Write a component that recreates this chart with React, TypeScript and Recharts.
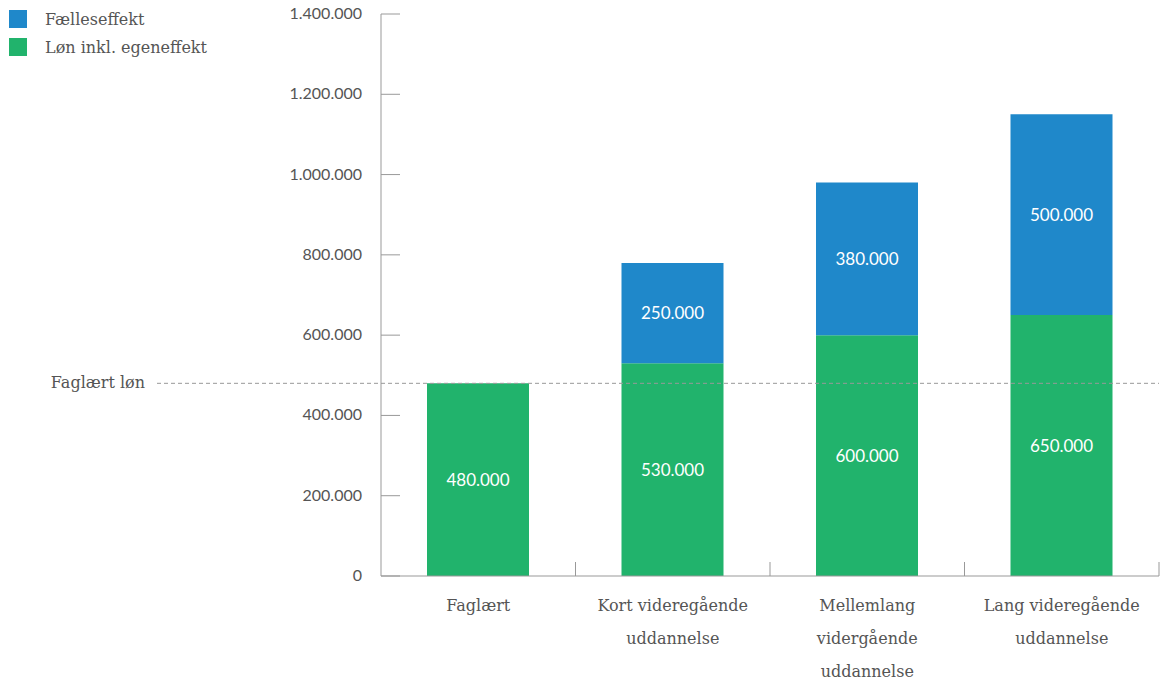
import { BarChart, Bar, XAxis, YAxis, ReferenceLine, LabelList } from 'recharts';

const categories = ['Faglært', 'Kort videregående uddannelse', 'Mellemlang vidergående uddannelse', 'Lang videregående uddannelse'];
const categoryLines = [['Faglært'], ['Kort videregående', 'uddannelse'], ['Mellemlang', 'vidergående', 'uddannelse'], ['Lang videregående', 'uddannelse']];
const lonValues = [480000, 530000, 600000, 650000];
const faellesValues = [null, 250000, 380000, 500000];
const yTicks = [0, 200000, 400000, 600000, 800000, 1000000, 1200000, 1400000];
const faglaertLon = 480000;

const W = 1162;
const H = 682;
const Y_AXIS_W = 381;
const RIGHT = 3;
const BLUE = '#1f88ca';
const GREEN = '#21b36c';
const AXIS = '#999999';
const TEXT = '#555555';
const WORD_FONT = '"DejaVu Serif", serif';
const NUM_FONT = 'Lato, sans-serif';

const band = (W - Y_AXIS_W - RIGHT) / categories.length;

const rows = categories.map((name, i) => ({
  name,
  lon: lonValues[i],
  faelles: faellesValues[i],
}));

const fmt = (v: number | null | undefined) =>
  v == null ? '' : String(v).replace(/\B(?=(\d{3})+(?!\d))/g, '.');

const YTick = ({ x, y, payload }: any) => (
  <g>
    <line x1={x + 19} x2={x + 38} y1={y} y2={y} stroke={AXIS} strokeWidth={1} />
    <text x={x} y={y} dy={5} textAnchor="end" fill={TEXT} fontSize={16} fontFamily={NUM_FONT}>
      {fmt(payload.value)}
    </text>
  </g>
);

const XTick = ({ x, y, index }: any) => (
  <g>
    <line x1={x + band / 2} x2={x + band / 2} y1={y - 14} y2={y} stroke={AXIS} strokeWidth={1} />
    {categoryLines[index].map((line, i) => (
      <text key={i} x={x} y={y + 35 + i * 33} textAnchor="middle" fill={TEXT} fontSize={16} fontFamily={WORD_FONT}>
        {line}
      </text>
    ))}
  </g>
);

const RefShape = ({ x2, y1 }: any) => (
  <g>
    <line x1={157} x2={x2} y1={y1} y2={y1} stroke={AXIS} strokeDasharray="4 3" strokeWidth={1} />
    <text x={145} y={y1} dy={5} textAnchor="end" fill={TEXT} fontSize={16} fontFamily={WORD_FONT}>
      Faglært løn
    </text>
  </g>
);

const legendItems = [
  { label: 'Fælleseffekt', color: BLUE },
  { label: 'Løn inkl. egeneffekt', color: GREEN },
];

export default function App() {
  return (
    <div style={{ position: 'absolute', left: 0, top: 0, width: W, height: H, background: '#fff' }}>
      <div style={{ position: 'absolute', left: 9, top: 10, zIndex: 2 }}>
        {legendItems.map((item) => (
          <div key={item.label} style={{ display: 'flex', alignItems: 'center', height: 18, marginBottom: 10 }}>
            <div style={{ width: 18, height: 18, background: item.color }} />
            <span style={{ marginLeft: 18, fontFamily: WORD_FONT, fontSize: 16, color: TEXT }}>{item.label}</span>
          </div>
        ))}
      </div>
      <BarChart width={W} height={H} data={rows} margin={{ top: 14, right: RIGHT, bottom: 0, left: 0 }} barSize={102}>
        <ReferenceLine y={faglaertLon} ifOverflow="visible" shape={RefShape} />
        <XAxis
          dataKey="name"
          height={106}
          interval={0}
          tickSize={0}
          tickMargin={0}
          tickLine={false}
          axisLine={{ stroke: AXIS }}
          tick={XTick}
        />
        <YAxis
          width={Y_AXIS_W}
          domain={[0, 1400000]}
          ticks={yTicks}
          tickSize={0}
          tickMargin={19}
          tickLine={false}
          axisLine={{ stroke: AXIS }}
          tick={YTick}
        />
        <Bar dataKey="lon" stackId="a" fill={GREEN} isAnimationActive={false}>
          <LabelList dataKey="lon" position="center" fill="#fff" fontSize={17} fontFamily={NUM_FONT} formatter={fmt} />
        </Bar>
        <Bar dataKey="faelles" stackId="a" fill={BLUE} isAnimationActive={false}>
          <LabelList dataKey="faelles" position="center" fill="#fff" fontSize={17} fontFamily={NUM_FONT} formatter={fmt} />
        </Bar>
      </BarChart>
    </div>
  );
}
